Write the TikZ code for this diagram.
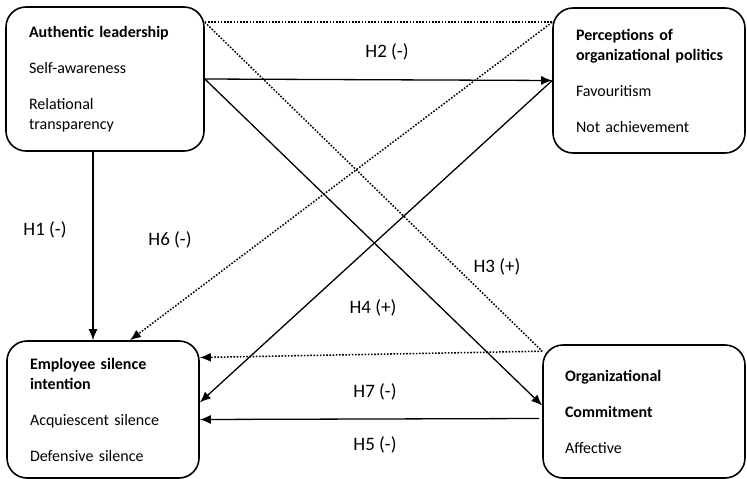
\documentclass[tikz,border=0pt]{standalone}
\usepackage{fontspec}
\setmainfont{Carlito}
\usetikzlibrary{arrows.meta}

\newcommand\boxfont{\fontsize{16}{20}\selectfont\hyphenpenalty=10000\relax}

\begin{document}
\begin{tikzpicture}[x=1pt,y=-1pt,line join=round,
  box/.style={draw,line width=1.6pt,rounded corners=20pt,align=left,
    inner xsep=0pt,inner ysep=0pt,font=\boxfont},
  direct/.style={line width=1.3pt,-{Latex[length=11pt,width=9pt]}},
  indirect/.style={line width=1.5pt,dash pattern=on 1.6pt off 1.6pt},
  hlab/.style={font=\fontsize{19}{22}\selectfont}]

% ===== 参数 =====
\def\gap{16pt}   % 段落间距

\useasboundingbox (0,0) rectangle (747,479);

% ===== 四个方框 =====
\node[box,minimum width=198pt,minimum height=144pt,text width=152pt] (al) at (105,79)
  {\textbf{Authentic leadership}\\[\gap] Self-awareness\\[\gap] Relational\\ transparency};
\node[box,minimum width=192pt,minimum height=145pt,text width=146pt] (pop) at (649,80.5)
  {\textbf{Perceptions of}\\ \textbf{organizational~politics}\\[\gap] Favouritism\\[\gap] Not achievement};
\node[box,minimum width=192pt,minimum height=137pt,text width=146pt] (esi) at (103,409.5)
  {\textbf{Employee silence}\\ \textbf{intention}\\[\gap] Acquiescent silence\\[\gap] Defensive silence};
\node[box,minimum width=202pt,minimum height=133pt,text width=158pt] (oc) at (644,411.5)
  {\textbf{Organizational}\\[\gap] \textbf{Commitment}\\[\gap] Affective};

% ===== 虚线(中介路径) =====
\draw[indirect] ([yshift=-16pt]al.north east) -- ([yshift=-15pt]pop.north west);
\draw[indirect] ([yshift=-16pt]al.north east) -- ([yshift=-7pt]oc.north west);
\draw[indirect,-{Latex[length=11pt,width=9pt]}] ([yshift=-15pt]pop.north west) -- ([xshift=27pt]esi.north);
\draw[indirect,-{Latex[length=11pt,width=9pt]}] ([yshift=-7pt]oc.north west) -- ([yshift=52pt]esi.east);

% ===== 实线(直接路径) =====
\draw[direct] ([xshift=-12pt]al.south) -- ([xshift=-12pt]al.south |- esi.north);
\draw[direct] (al.east) -- (pop.west);
\draw[direct] (al.east) -- ([yshift=6pt]oc.west);
\draw[direct] (pop.west) -- ([yshift=7pt]esi.east);
\draw[direct] ([xshift=-3pt,yshift=-7pt]oc.west) -- ([yshift=-10pt]esi.east);

% ===== 假设标注 =====
\node[hlab] (h1) at (45,230) {H1 (-)};
\node[hlab] (h2) at (387,52) {H2 (-)};
\node[hlab] (h3) at (497,267) {H3 (+)};
\node[hlab] (h4) at (373,308) {H4 (+)};
\node[hlab] (h5) at (375,445) {H5 (-)};
\node[hlab] (h6) at (170,240) {H6 (-)};
\node[hlab] (h7) at (375,392) {H7 (-)};

\end{tikzpicture}
\end{document}
